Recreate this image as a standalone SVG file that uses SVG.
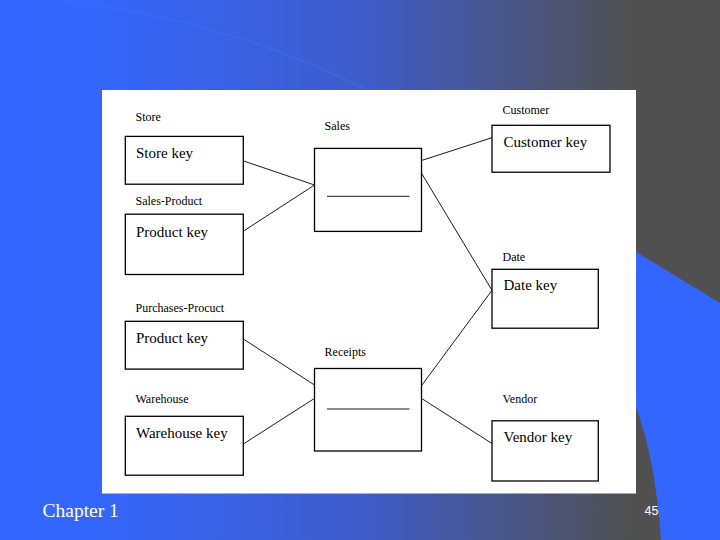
<svg xmlns="http://www.w3.org/2000/svg" width="720" height="540" viewBox="0 0 720 540">
  <defs>
    <linearGradient id="bg" x1="0" y1="0" x2="720" y2="0" gradientUnits="userSpaceOnUse">
      <stop offset="0" stop-color="#3366FF"/>
      <stop offset="0.13" stop-color="#3366FC"/>
      <stop offset="0.5" stop-color="#3F5CCB"/>
      <stop offset="0.88" stop-color="#505050"/>
      <stop offset="1" stop-color="#505050"/>
    </linearGradient>
    <style>
      .box { fill: #FFFFFF; stroke: #000000; stroke-width: 1.3; }
      .conn { stroke: #000000; stroke-width: 0.9; fill: none; }
      .lbl { font-family: "Liberation Serif", "Times New Roman", serif; font-size: 12px; fill: #000000; }
      .key { font-family: "Liberation Serif", "Times New Roman", serif; font-size: 15px; fill: #000000; }
    </style>
  </defs>

  <!-- background -->
  <rect x="0" y="0" width="720" height="540" fill="url(#bg)"/>
  <path d="M 60 0 C 160 12, 270 40, 367 90" fill="none" stroke="#3F74FF" stroke-width="1.5" opacity="0.45"/>
  <path d="M 600 230 L 720 303 L 720 540 L 661 540 C 656 470, 645 420, 620 370 Z" fill="#3366FF"/>

  <!-- white panel -->
  <rect x="102" y="90" width="534" height="403.5" fill="#FFFFFF"/>

  <!-- connectors -->
  <g id="connectors">
    <line class="conn" x1="243" y1="160.8" x2="314.5" y2="185"/>
    <line class="conn" x1="243" y1="231.4" x2="314.5" y2="185"/>
    <line class="conn" x1="421.5" y1="160.5" x2="492" y2="137.7"/>
    <line class="conn" x1="421.5" y1="173.2" x2="492" y2="290.3"/>
    <line class="conn" x1="421.5" y1="385.7" x2="492" y2="290.3"/>
    <line class="conn" x1="243" y1="338.8" x2="314.5" y2="385"/>
    <line class="conn" x1="243" y1="444.2" x2="314.5" y2="398.4"/>
    <line class="conn" x1="421.5" y1="398.4" x2="492" y2="443.5"/>
  </g>

  <g id="store">
    <text class="lbl" x="135.5" y="121">Store</text>
    <rect class="box" x="125.3" y="136.4" width="118" height="47.8"/>
    <text class="key" x="136" y="158.3">Store key</text>
  </g>

  <g id="sales-product">
    <text class="lbl" x="135.5" y="205">Sales-Product</text>
    <rect class="box" x="125.3" y="214.2" width="118" height="60.3"/>
    <text class="key" x="136" y="236.7">Product key</text>
  </g>

  <g id="purchases-product">
    <text class="lbl" x="135.5" y="311.7">Purchases-Procuct</text>
    <rect class="box" x="125.3" y="321.3" width="118" height="47.8"/>
    <text class="key" x="136" y="343.3">Product key</text>
  </g>

  <g id="warehouse">
    <text class="lbl" x="135.5" y="402.7">Warehouse</text>
    <rect class="box" x="125.3" y="416.3" width="118" height="58.9"/>
    <text class="key" x="136" y="437.7">Warehouse key</text>
  </g>

  <g id="sales">
    <text class="lbl" x="324.6" y="129.5">Sales</text>
    <rect class="box" x="314.5" y="148.4" width="107" height="83"/>
    <line class="conn" x1="327" y1="196.3" x2="409.5" y2="196.3" stroke-width="1.2"/>
  </g>

  <g id="receipts">
    <text class="lbl" x="324.6" y="356">Receipts</text>
    <rect class="box" x="314.5" y="368.5" width="107" height="82.5"/>
    <line class="conn" x1="327" y1="409" x2="409.5" y2="409" stroke-width="1.2"/>
  </g>

  <g id="customer">
    <text class="lbl" x="502.5" y="114">Customer</text>
    <rect class="box" x="492" y="125.3" width="118" height="46.9"/>
    <text class="key" x="503.5" y="146.5">Customer key</text>
  </g>

  <g id="date">
    <text class="lbl" x="502.5" y="260.7">Date</text>
    <rect class="box" x="492" y="269.3" width="106.3" height="58.9"/>
    <text class="key" x="503.5" y="290">Date key</text>
  </g>

  <g id="vendor">
    <text class="lbl" x="502.5" y="403">Vendor</text>
    <rect class="box" x="492" y="420.8" width="106.3" height="60.2"/>
    <text class="key" x="503.5" y="442">Vendor key</text>
  </g>

  <text x="42.5" y="517" font-family="Liberation Serif, Times New Roman, serif" font-size="19.5" fill="#FFFFFF">Chapter 1</text>
  <text x="644.5" y="515" font-family="Liberation Sans, Arial, sans-serif" font-size="12.5" fill="#FFFFFF">45</text>
</svg>
